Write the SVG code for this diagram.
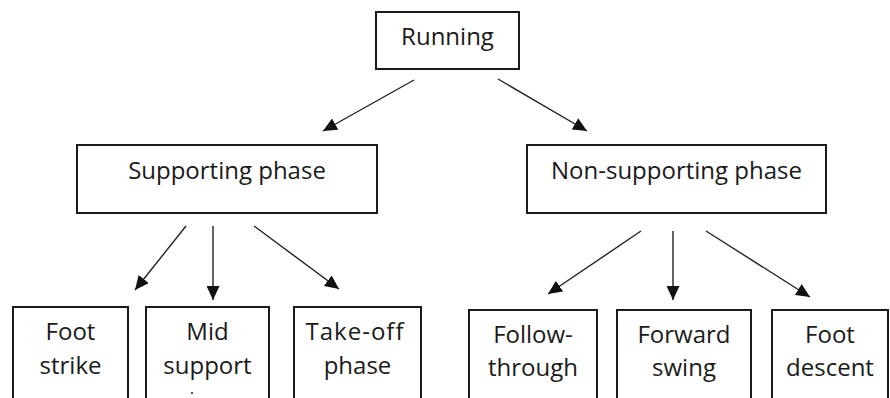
<svg xmlns="http://www.w3.org/2000/svg" width="890" height="398" viewBox="0 0 890 398">
  <style>
    .box { fill: #ffffff; stroke: #1a1a1a; stroke-width: 2; }
    .lbl { font-family: "Open Sans", "Liberation Sans", sans-serif; fill: #1a1a1a; text-anchor: middle; }
    .top { font-size: 24px; }
    .leaf { font-size: 24px; }
    .arrow { stroke: #222222; stroke-width: 1.4; fill: none; marker-end: url(#head); }
  </style>
  <defs>
    <marker id="head" markerUnits="userSpaceOnUse" markerWidth="15" markerHeight="13" refX="14" refY="6.5" orient="auto">
      <path d="M0,0 L14,6.5 L0,13 z" fill="#111111"/>
    </marker>
  </defs>
  <rect width="890" height="398" fill="#ffffff"/>

  <g id="connectors">
    <line class="arrow" x1="414" y1="80" x2="323" y2="131"/>
    <line class="arrow" x1="498" y1="79" x2="587" y2="131"/>
    <line class="arrow" x1="186" y1="226" x2="135" y2="290"/>
    <line class="arrow" x1="213" y1="226" x2="213" y2="300"/>
    <line class="arrow" x1="254" y1="226" x2="339" y2="289"/>
    <line class="arrow" x1="641" y1="231" x2="548" y2="294"/>
    <line class="arrow" x1="673" y1="231" x2="673" y2="300"/>
    <line class="arrow" x1="706" y1="231" x2="810" y2="297"/>
  </g>

  <g id="running">
    <rect class="box" x="376" y="12" width="143" height="57"/>
    <text class="lbl top" x="447.5" y="45">Running</text>
  </g>

  <g id="supporting-phase">
    <rect class="box" x="77" y="145" width="300" height="68"/>
    <text class="lbl top" x="227" y="179">Supporting phase</text>
  </g>

  <g id="non-supporting-phase">
    <rect class="box" x="527" y="145" width="299" height="68"/>
    <text class="lbl top" x="676.5" y="179">Non-supporting phase</text>
  </g>

  <g id="foot-strike">
    <rect class="box" x="13" y="307" width="115" height="120"/>
    <text class="lbl leaf" x="70.5" y="340">Foot</text>
    <text class="lbl leaf" x="70.5" y="374">strike</text>
  </g>

  <g id="mid-support">
    <rect class="box" x="146" y="307" width="123" height="120"/>
    <text class="lbl leaf" x="207.5" y="340">Mid</text>
    <text class="lbl leaf" x="207.5" y="374">support</text>
    <circle cx="192" cy="393" r="1.1" fill="#333333"/>
  </g>

  <g id="take-off-phase">
    <rect class="box" x="294" y="307" width="127" height="120"/>
    <text class="lbl leaf" x="355" y="340" letter-spacing="1">Take-off</text>
    <text class="lbl leaf" x="357.5" y="374">phase</text>
  </g>

  <g id="follow-through">
    <rect class="box" x="469" y="310" width="128" height="120"/>
    <text class="lbl leaf" x="533" y="343">Follow-</text>
    <text class="lbl leaf" x="533" y="376">through</text>
  </g>

  <g id="forward-swing">
    <rect class="box" x="617" y="310" width="134" height="120"/>
    <text class="lbl leaf" x="684" y="343">Forward</text>
    <text class="lbl leaf" x="684" y="376">swing</text>
  </g>

  <g id="foot-descent">
    <rect class="box" x="772" y="310" width="116" height="120"/>
    <text class="lbl leaf" x="830" y="343">Foot</text>
    <text class="lbl leaf" x="830" y="376">descent</text>
  </g>
</svg>
